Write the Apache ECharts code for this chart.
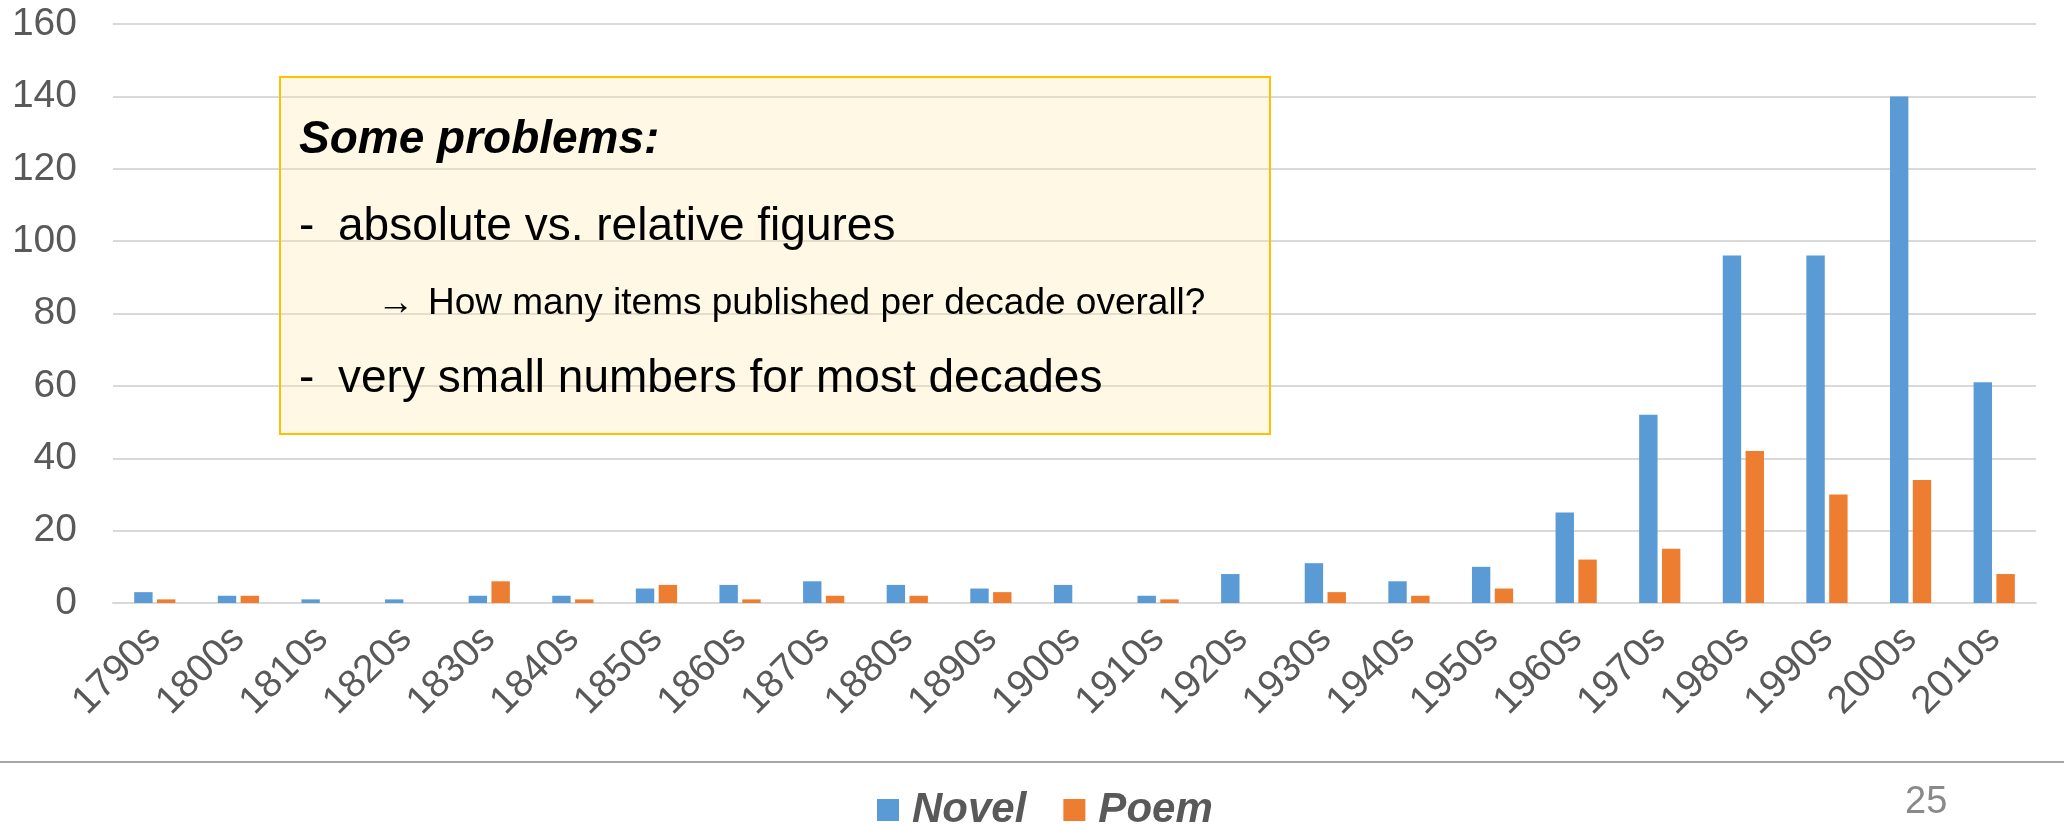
<!DOCTYPE html>
<html>
<head>
<meta charset="utf-8">
<title>Novels and poems per decade</title>
<script src="https://cdn.jsdelivr.net/npm/echarts@6/dist/echarts.min.js"></script>
<style>
  html, body { margin: 0; padding: 0; background: #fff; }
  #chart { width: 2064px; height: 824px; }
</style>
</head>
<body>
<div id="chart"></div>
<script>
// Publications per decade, by genre
const decades = ['1790s','1800s','1810s','1820s','1830s','1840s','1850s','1860s','1870s','1880s','1890s','1900s',
                 '1910s','1920s','1930s','1940s','1950s','1960s','1970s','1980s','1990s','2000s','2010s'];
const novel = [3, 2, 1, 1, 2, 2, 4, 5, 6, 5, 4, 5, 2, 8, 11, 6, 10, 25, 52, 96, 96, 140, 61];
const poem  = [1, 2, 0, 0, 6, 1, 5, 1, 2, 2, 3, 0, 1, 0, 3, 2, 4, 12, 15, 42, 30, 34, 8];
const yTicks = { min: 0, max: 160, interval: 20 };

const FONT = '"Liberation Sans", Arial, sans-serif';
const GREY = '#595959';

// text placed by its baseline (zrender centres the em box on y for 'middle')
function line(x, baseline, size, text, style) {
  return {
    type: 'text', z: 101,
    style: {
      x: x, y: baseline - 0.36 * size, text: text, verticalAlign: 'middle',
      font: (style || '') + ' ' + size + 'px ' + FONT, fill: '#000'
    }
  };
}

const chart = echarts.init(document.getElementById('chart'));

const footerNumber = line(1905, 816, 38, '25');
footerNumber.z = 50;
footerNumber.style.fill = '#898989';

chart.setOption({
  animation: false,
  color: ['#5B9BD5', '#ED7D31'],
  grid: { left: 113, right: 28, top: 24, bottom: 221, containLabel: false },
  legend: {
    data: ['Novel', 'Poem'],
    left: 872,
    top: 783,
    itemWidth: 22,
    itemHeight: 22,
    itemGap: 37,
    icon: 'rect',
    textStyle: {
      fontFamily: FONT, fontSize: 42, fontWeight: 'bold', fontStyle: 'italic',
      color: GREY, lineHeight: 44, padding: [0, 0, 0, 8]
    }
  },
  xAxis: {
    type: 'category',
    data: decades,
    axisLine: { lineStyle: { color: '#D9D9D9', width: 2 } },
    axisTick: { show: false },
    axisLabel: {
      rotate: 45, interval: 0, margin: 30,
      fontFamily: FONT, fontSize: 39, color: GREY
    }
  },
  yAxis: {
    type: 'value',
    min: yTicks.min, max: yTicks.max, interval: yTicks.interval,
    axisLine: { show: false },
    axisTick: { show: false },
    splitLine: { lineStyle: { color: '#D9D9D9', width: 2 } },
    axisLabel: { margin: 36, fontFamily: FONT, fontSize: 39, color: GREY }
  },
  series: [
    { name: 'Novel', type: 'bar', data: novel, barWidth: '22%', barGap: '24%' },
    { name: 'Poem',  type: 'bar', data: poem,  barWidth: '22%' }
  ],
  graphic: [
    // note box over the plot
    {
      type: 'rect', z: 100,
      shape: { x: 280, y: 77, width: 990, height: 357 },
      style: { fill: 'rgba(255,232,170,0.3)', stroke: '#FFC000', lineWidth: 2 }
    },
    line(299, 157, 46, 'Some problems:', 'italic bold'),
    line(299, 244, 46, '-'),
    line(338, 244, 46, 'absolute vs. relative figures'),
    line(377, 317, 37, '\u2192'),
    line(428, 317, 37, 'How many items published per decade overall?'),
    line(299, 396, 46, '-'),
    line(338, 396, 46, 'very small numbers for most decades'),
    // slide footer rule and page number
    {
      type: 'rect', z: 50,
      shape: { x: 0, y: 761, width: 2064, height: 2 },
      style: { fill: '#A6A6A6' }
    },
    footerNumber
  ]
});
</script>
</body>
</html>
